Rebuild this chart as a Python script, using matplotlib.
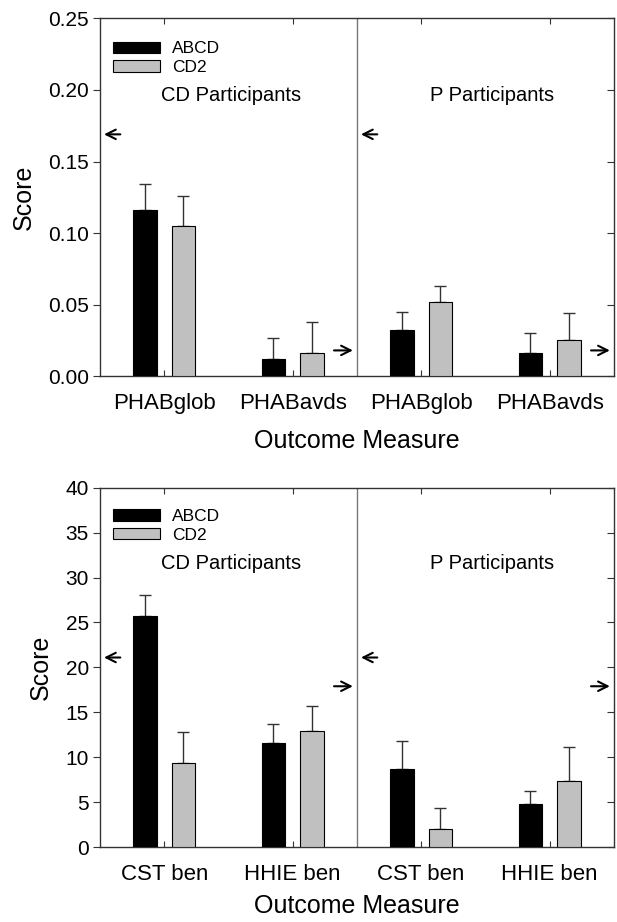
import matplotlib
matplotlib.use("Agg")
import matplotlib.pyplot as plt
import numpy as np
from matplotlib.patches import Patch

plt.rcParams['font.family'] = ['Liberation Sans', 'DejaVu Sans']

series = ["ABCD", "CD2"]
colors = ["#000000", "#c0c0c0"]

# Top panel (PHAB)
top_labels = ["PHABglob", "PHABavds", "PHABglob", "PHABavds"]
top_abcd = [0.116, 0.012, 0.032, 0.016]
top_abcd_err = [0.018, 0.015, 0.013, 0.014]
top_cd2 = [0.105, 0.016, 0.052, 0.025]
top_cd2_err = [0.021, 0.022, 0.011, 0.019]
top_left_arrow = 0.169
top_right_arrow = 0.018
top_yticks = [0.00, 0.05, 0.10, 0.15, 0.20, 0.25]

# Bottom panel (CST / HHIE)
bot_labels = ["CST ben", "HHIE ben", "CST ben", "HHIE ben"]
bot_abcd = [25.75, 11.6, 8.7, 4.8]
bot_abcd_err = [2.3, 2.1, 3.05, 1.4]
bot_cd2 = [9.4, 12.9, 2.05, 7.4]
bot_cd2_err = [3.45, 2.75, 2.25, 3.7]
bot_left_arrow = 21.1
bot_right_arrow = 17.9
bot_yticks = [0, 5, 10, 15, 20, 25, 30, 35, 40]

group_titles = ["CD Participants", "P Participants"]

fig = plt.figure(figsize=(6.17, 9.22), dpi=100)
ax1 = fig.add_axes([0.162, 0.592, 0.833, 0.388])
ax2 = fig.add_axes([0.162, 0.0813, 0.833, 0.3897])

def draw(ax, labels, a, ae, c, ce, yticks, fmt, larrow, rarrow, title_y, leg_y, xpad):
    x = np.arange(len(labels)) + 0.5
    w = 0.185
    off = 0.15
    ekw = dict(ecolor="#333333", elinewidth=1.0, capsize=4.5, capthick=1.0)
    ax.bar(x - off, a, w, color=colors[0], edgecolor="black", linewidth=0.8, zorder=3)
    ax.bar(x + off, c, w, color=colors[1], edgecolor="black", linewidth=0.8, zorder=3)
    ax.errorbar(x - off, a, yerr=[np.zeros(len(a)), ae], fmt="none", zorder=2, **ekw)
    ax.errorbar(x + off, c, yerr=[np.zeros(len(c)), ce], fmt="none", zorder=2, **ekw)
    ax.set_xlim(0, 4)
    ax.set_ylim(yticks[0], yticks[-1])
    ax.set_yticks(yticks)
    ax.set_yticklabels([fmt.format(v) for v in yticks], fontsize=15)
    ax.set_xticks(x)
    ax.set_xticklabels(labels, fontsize=16)
    ax.tick_params(axis="x", direction="in", length=4, pad=12, top=True, color="#333333")
    ax.tick_params(axis="y", direction="out", length=5, pad=3, color="#333333")
    ax.set_ylabel("Score", fontsize=18, labelpad=9)
    ax.set_xlabel("Outcome Measure", fontsize=18, labelpad=xpad)
    ax2r = ax.secondary_yaxis("right")
    ax2r.set_yticks(yticks)
    ax2r.tick_params(direction="in", length=5, labelright=False, color="#333333")
    for s in ax.spines.values():
        s.set_color("#333333")
        s.set_linewidth(1.0)
    ax2r.spines["right"].set_visible(False)
    ax.axvline(2.0, color="#777777", linewidth=1.0, zorder=1)
    ak = dict(arrowstyle="->", color="black", lw=1.5, mutation_scale=17)
    ax.annotate("", xy=(0.01, larrow), xytext=(0.18, larrow), arrowprops=ak)
    ax.annotate("", xy=(2.01, larrow), xytext=(2.18, larrow), arrowprops=ak)
    ax.annotate("", xy=(1.99, rarrow), xytext=(1.8, rarrow), arrowprops=ak)
    ax.annotate("", xy=(3.99, rarrow), xytext=(3.8, rarrow), arrowprops=ak)
    ax.text((231 - 100) / 514, title_y, group_titles[0], transform=ax.transAxes,
            fontsize=14.5, ha="center", va="center")
    ax.text((492 - 100) / 514, title_y, group_titles[1], transform=ax.transAxes,
            fontsize=14.5, ha="center", va="center")
    handles = [Patch(facecolor=colors[0], edgecolor="black", linewidth=0.8),
               Patch(facecolor=colors[1], edgecolor="black", linewidth=0.8)]
    ax.legend(handles, series, loc="upper left", bbox_to_anchor=(0.012, leg_y),
              frameon=False, fontsize=12.5, handlelength=2.7, handleheight=0.65,
              labelspacing=0.2, handletextpad=0.7, borderaxespad=0.0)

draw(ax1, top_labels, top_abcd, top_abcd_err, top_cd2, top_cd2_err, top_yticks,
     "{:.2f}", top_left_arrow, top_right_arrow, 0.785, 0.955, 11)
draw(ax2, bot_labels, bot_abcd, bot_abcd_err, bot_cd2, bot_cd2_err, bot_yticks,
     "{:d}", bot_left_arrow, bot_right_arrow, 0.79, 0.96, 7)

fig.savefig("out.png", dpi=100)
